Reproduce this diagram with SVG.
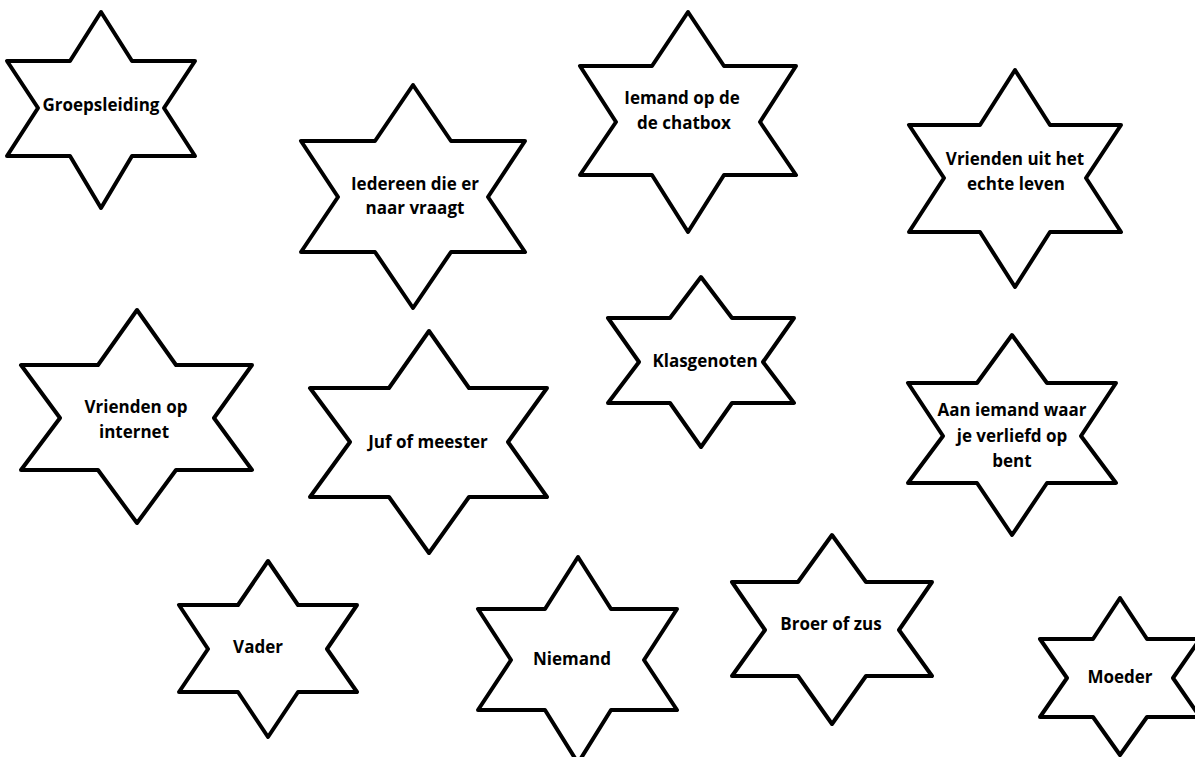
<svg xmlns="http://www.w3.org/2000/svg" width="1195" height="757" viewBox="0 0 1195 757">
<style>
.star{fill:#fff;stroke:#000;stroke-width:4;stroke-linejoin:round}
.lbl{font-family:"Open Sans","Liberation Sans",sans-serif;font-weight:700;font-size:17px;fill:#000;text-anchor:middle}
</style>
<rect width="1195" height="757" fill="#fff"/>
<g id="groepsleiding">
<polygon class="star" points="101,12 132,61 195,61 164,108 195,156 132,156 101,208 70,156 7,156 38,108 7,61 70,61"/>
<text class="lbl" x="101" y="111">Groepsleiding</text>
</g>
<g id="iedereen">
<polygon class="star" points="413,85 451,141 525,141 488,197 525,252 451,252 413,308 375,252 301,252 338,197 301,141 375,141"/>
<text class="lbl" x="415" y="190">Iedereen die er</text>
<text class="lbl" x="415" y="214">naar vraagt</text>
</g>
<g id="chatbox">
<polygon class="star" points="688,12 724,66 796,66 760,122 796,175 724,175 688,232 652,175 580,175 616,122 580,66 652,66"/>
<text class="lbl" x="682" y="104">Iemand op de</text>
<text class="lbl" x="684" y="129">de chatbox</text>
</g>
<g id="vrienden-echt">
<polygon class="star" points="1015,70 1050,125 1121,125 1086,178 1121,232 1050,232 1015,287 980,232 909,232 944,178 909,125 980,125"/>
<text class="lbl" x="1015" y="165">Vrienden uit het</text>
<text class="lbl" x="1016" y="190">echte leven</text>
</g>
<g id="vrienden-internet">
<polygon class="star" points="137,310 176,365 252,365 214,418 252,470 176,470 137,523 98,470 21,470 60,418 21,365 98,365"/>
<text class="lbl" x="136" y="413">Vrienden op</text>
<text class="lbl" x="134" y="438">internet</text>
</g>
<g id="juf-meester">
<polygon class="star" points="429,331 469,388 547,388 508,442 547,497 469,497 429,553 389,497 310,497 350,442 310,388 389,388"/>
<text class="lbl" x="428" y="448">Juf of meester</text>
</g>
<g id="klasgenoten">
<polygon class="star" points="701,277 732,318 794,318 763,362 794,403 732,403 701,447 670,403 608,403 639,362 608,318 670,318"/>
<text class="lbl" x="705" y="367">Klasgenoten</text>
</g>
<g id="verliefd">
<polygon class="star" points="1012,335 1047,383 1116,383 1081,436 1116,483 1047,483 1012,535 977,483 908,483 943,436 908,383 977,383"/>
<text class="lbl" x="1012" y="416">Aan iemand waar</text>
<text class="lbl" x="1012" y="442">je verliefd op</text>
<text class="lbl" x="1012" y="467">bent</text>
</g>
<g id="vader">
<polygon class="star" points="268,561 298,605 357,605 327,649 357,692 298,692 268,737 238,692 179,692 208,649 179,605 238,605"/>
<text class="lbl" x="258" y="653">Vader</text>
</g>
<g id="niemand">
<polygon class="star" points="578,557 611,609 677,609 644,660 677,710 611,710 578,763 545,710 478,710 511,660 478,609 545,609"/>
<text class="lbl" x="572" y="665">Niemand</text>
</g>
<g id="broer-zus">
<polygon class="star" points="832,535 866,582 932,582 899,630 932,676 866,676 832,724 798,676 732,676 765,630 732,582 798,582"/>
<text class="lbl" x="831" y="630">Broer of zus</text>
</g>
<g id="moeder">
<polygon class="star" points="1120,598 1147,639 1200,639 1173,678 1200,717 1147,717 1120,755 1093,717 1040,717 1067,678 1040,639 1093,639"/>
<text class="lbl" x="1120" y="683">Moeder</text>
</g>
</svg>
